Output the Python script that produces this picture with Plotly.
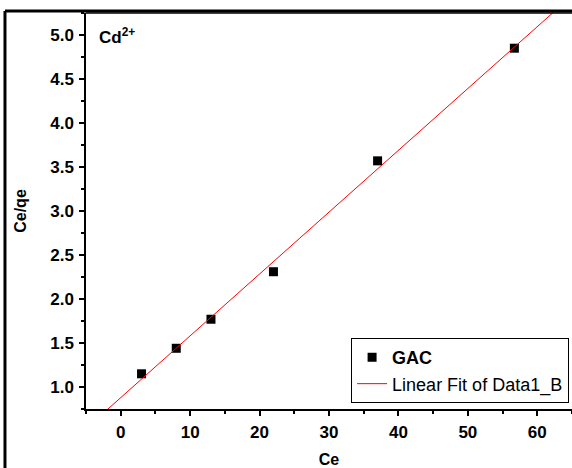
import numpy as np
import plotly.graph_objects as go

ce = [3.0, 8.0, 13.0, 22.0, 37.0, 56.7]
ce_qe = [1.15, 1.44, 1.77, 2.31, 3.57, 4.85]
x_ticks = [0, 10, 20, 30, 40, 50, 60]
y_ticks = [1.0, 1.5, 2.0, 2.5, 3.0, 3.5, 4.0, 4.5, 5.0]

slope, intercept = np.polyfit(ce, ce_qe, 1)
fit_x = np.array([-5.0, 65.0])
fit_y = slope * fit_x + intercept

FONT = "Liberation Sans, Arial, sans-serif"

fig = go.Figure()
fig.add_trace(go.Scatter(
    x=ce, y=ce_qe, mode="markers", name="<b>GAC</b>",
    marker=dict(symbol="square", size=9, color="black"),
))
fig.add_trace(go.Scatter(
    x=fit_x, y=fit_y, mode="lines", name="Linear Fit of Data1_B",
    line=dict(color="red", width=1),
))

axis_common = dict(
    showline=True, linecolor="black", linewidth=1.5, mirror=False,
    showgrid=False, zeroline=False, ticks="outside", ticklen=5,
    tickwidth=1.5, tickcolor="black", ticklabelstandoff=2,
    tickfont=dict(family=FONT, size=17, color="black", weight="bold"),
)

fig.update_xaxes(
    range=[-5, 65], tickvals=x_ticks, ticktext=[str(v) for v in x_ticks],
    minor=dict(ticks="outside", ticklen=3, dtick=5, tick0=0, tickcolor="black", tickwidth=1.5),
    title=dict(text="<b>Ce</b>", font=dict(family=FONT, size=16, color="black"), standoff=14),
    **axis_common,
)
fig.update_yaxes(
    range=[0.75, 5.25], tickvals=y_ticks, ticktext=[f"{v:.1f}" for v in y_ticks],
    minor=dict(ticks="outside", ticklen=3, dtick=0.25, tick0=0, tickcolor="black", tickwidth=1.5),
    title=dict(text="<b>Ce/qe</b>", font=dict(family=FONT, size=16, color="black"), standoff=20),
    **axis_common,
)

fig.add_annotation(
    x=0.022, y=0.975, xref="paper", yref="paper", xanchor="left", yanchor="top",
    text="<b>Cd<sup>2+</sup></b>", showarrow=False,
    font=dict(family=FONT, size=17, color="black"),
)

# top edge of the plot area
fig.add_shape(type="line", xref="paper", yref="paper",
              x0=0, x1=1, y0=1, y1=1,
              line=dict(color="black", width=1.5))
# outer frame (image border)
fig.add_shape(type="line", xref="paper", yref="paper",
              x0=-0.1667, x1=-0.1667, y0=1.005, y1=-0.3,
              line=dict(color="black", width=3))
fig.add_shape(type="line", xref="paper", yref="paper",
              x0=-0.1667, x1=1.2, y0=1.005, y1=1.005,
              line=dict(color="black", width=3))

fig.update_layout(
    width=572, height=468,
    margin=dict(l=86, r=0, t=13, b=59),
    paper_bgcolor="white", plot_bgcolor="white",
    font=dict(family=FONT, size=16, color="black"),
    showlegend=True,
    legend=dict(
        x=0.994, y=0.015, xanchor="right", yanchor="bottom",
        bgcolor="white", bordercolor="black", borderwidth=1,
        font=dict(family=FONT, size=18, color="black"),
        itemwidth=30, tracegroupgap=0,
    ),
)

fig.write_html("out.html")
